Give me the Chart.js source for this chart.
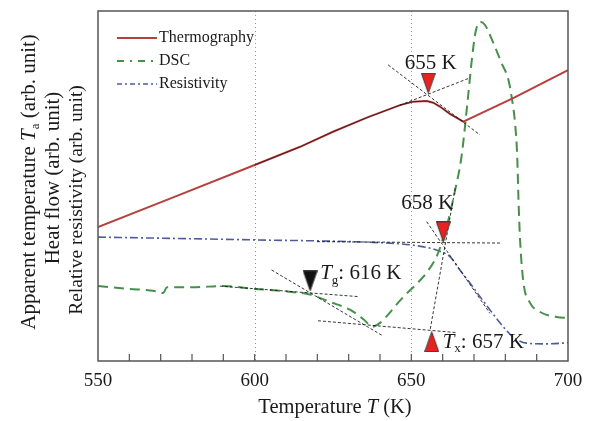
<!DOCTYPE html>
<html>
<head>
<meta charset="utf-8">
<script src="https://cdn.jsdelivr.net/npm/chart.js@4.4.1/dist/chart.umd.min.js"></script>
<style>
  html, body { margin: 0; padding: 0; background: #fff; }
  #wrap { width: 590px; height: 421px; }
</style>
</head>
<body>
<div id="wrap"><canvas id="chart" width="590" height="421"></canvas></div>
<script>
"use strict";

// ── Data (x: temperature in K, y: arbitrary units) ──────────────────────────

const xTicks = [550, 600, 650, 700];

const thermoT = [550, 575, 600, 614.5, 625, 636, 646.4, 650.6, 654.9, 657, 659.1, 662.3, 666.6, 682.5, 700];
const thermoY = [38.3, 47.1, 56.0, 61.2, 65.5, 69.6, 73.1, 74.1, 74.3, 73.8, 72.7, 70.6, 68.4, 75.1, 83.1];

const dscT = [550, 560, 568, 570.8, 572, 580, 590, 600, 611, 618, 624, 630.5, 635, 637.5, 640, 643, 646,
  649, 652, 655, 658, 660, 662, 664, 666, 668, 669.3, 670.5, 672, 673.5, 676.2, 678.8, 681, 682, 683.1,
  683.8, 684.2, 684.7, 685.8, 687.9, 691.1, 696.4, 700];
const dscY = [21.4, 20.6, 20.0, 19.4, 21.1, 21.1, 21.4, 20.6, 19.8, 18.9, 16.9, 14.6, 11.7, 9.8, 10.9, 13.7, 16.9,
  19.7, 22.3, 25.4, 29.7, 34.6, 40.9, 48.9, 58.3, 74.6, 86.0, 94.0, 96.9, 96.0, 90.8, 85.1, 80.3, 75.5, 68.0,
  58.3, 46.0, 34.6, 22.3, 16.6, 14.0, 12.6, 12.3];

const resT = [550, 600, 640, 650.5, 658, 662.3, 665.5, 668.7, 671.9, 675.1, 679.3, 682.4, 686.8, 693.2, 700];
const resY = [35.4, 34.6, 33.8, 33.1, 31.7, 29.8, 26.0, 22.3, 18.4, 14.6, 9.8, 6.9, 5.1, 4.9, 5.2];

// tangent construction lines, [[T1, y1], [T2, y2]]
const tangents = [
  [[642.6, 84.6], [671.9, 64.6]],
  [[646.4, 73.1], [668.7, 80.9]],
  [[619.9, 34.1], [678.3, 33.7]],
  [[654.9, 39.8], [675.1, 13.6]],
  [[664.0, 49.4], [656.0, 8.9]],
  [[620.2, 11.5], [664.6, 8.1]],
  [[605.4, 26.0], [640.5, 7.4]],
  [[588.9, 21.4], [633.1, 18.4]],
];

// markers: T, y
const redDownT = [655.4, 660.2];
const redDownY = [79.4, 36.9];
const redUpT = [656.5];
const redUpY = [5.5];
const blackDownT = [617.7];
const blackDownY = [22.9];

// ── Helpers ──────────────────────────────────────────────────────────────────

const SERIF = "'Liberation Serif', 'Times New Roman', serif";
const pts = (xs, ys) => xs.map((x, i) => ({ x, y: ys[i] }));

function triangleImage(fill, up) {
  const c = document.createElement("canvas");
  c.width = 15;
  c.height = 21;
  const g = c.getContext("2d");
  g.beginPath();
  if (up) {
    g.moveTo(7.5, 0.5); g.lineTo(14.5, 20.5); g.lineTo(0.5, 20.5);
  } else {
    g.moveTo(0.5, 0.5); g.lineTo(14.5, 0.5); g.lineTo(7.5, 20.5);
  }
  g.closePath();
  g.fillStyle = fill;
  g.fill();
  g.strokeStyle = "#3a3a3a";
  g.lineWidth = 1;
  g.stroke();
  return c;
}

// draw text made of parts {t, italic, sub}
function richText(ctx, parts, x, y, size, align) {
  const fontOf = (p) => `${p.italic ? "italic " : ""}${p.sub ? Math.round(size * 0.62) : size}px ${SERIF}`;
  let w = 0;
  parts.forEach((p) => { ctx.font = fontOf(p); w += ctx.measureText(p.t).width; });
  let cx = align === "center" ? x - w / 2 : x;
  ctx.textAlign = "left";
  ctx.textBaseline = "middle";
  parts.forEach((p) => {
    ctx.font = fontOf(p);
    ctx.fillText(p.t, cx, p.sub ? y + size * 0.33 : y);
    cx += ctx.measureText(p.t).width;
  });
}

const annotations = [
  { parts: [{ t: "655 K" }], x: 656.2, y: 85.1, size: 21, align: "center" },
  { parts: [{ t: "658 K" }], x: 655.1, y: 44.9, size: 21, align: "center" },
  { parts: [{ t: "T", italic: true }, { t: "g", sub: true }, { t: ": 616 K" }], x: 620.9, y: 25.1, size: 21, align: "left" },
  { parts: [{ t: "T", italic: true }, { t: "x", sub: true }, { t: ": 657 K" }], x: 660.0, y: 5.4, size: 21, align: "left" },
];

const yTitles = [
  { parts: [{ t: "Apparent temperature " }, { t: "T", italic: true }, { t: "a", sub: true }, { t: " (arb. unit)" }], x: 29, y: 182, size: 21 },
  { parts: [{ t: "Heat flow (arb. unit)" }], x: 53, y: 178, size: 21 },
  { parts: [{ t: "Relative resistivity (arb. unit)" }], x: 77, y: 200, size: 19.5 },
];

// ── Frame, ticks, texts, legend ──────────────────────────────────────────────

const decor = {
  id: "decor",
  beforeDatasetsDraw(chart) {
    const { ctx, chartArea: a, scales: { x } } = chart;
    ctx.save();
    ctx.strokeStyle = "#9a9a9a";
    ctx.lineWidth = 1;
    ctx.setLineDash([1, 3]);
    [600, 650].forEach((v) => {
      const px = Math.round(x.getPixelForValue(v)) + 0.5;
      ctx.beginPath();
      ctx.moveTo(px, a.top);
      ctx.lineTo(px, a.bottom);
      ctx.stroke();
    });
    ctx.restore();
  },
  afterDraw(chart) {
    const { ctx, chartArea: a, scales: { x } } = chart;
    ctx.save();
    // frame
    ctx.strokeStyle = "#555";
    ctx.lineWidth = 1.5;
    ctx.strokeRect(a.left, a.top, a.right - a.left, a.bottom - a.top);
    // inward ticks every 10 K
    ctx.lineWidth = 1.2;
    for (let v = 560; v < 700; v += 10) {
      const px = x.getPixelForValue(v);
      ctx.beginPath();
      ctx.moveTo(px, a.bottom);
      ctx.lineTo(px, a.bottom - 7);
      ctx.stroke();
    }
    ctx.fillStyle = "#1a1a1a";
    // x title
    richText(ctx, [{ t: "Temperature " }, { t: "T", italic: true }, { t: " (K)" }], (a.left + a.right) / 2 + 2, 408, 20.5, "center");
    // y titles
    yTitles.forEach((l) => {
      ctx.save();
      ctx.translate(l.x, l.y);
      ctx.rotate(-Math.PI / 2);
      richText(ctx, l.parts, 0, 0, l.size, "center");
      ctx.restore();
    });
    // annotations
    const y = chart.scales.y;
    annotations.forEach((n) => {
      richText(ctx, n.parts, x.getPixelForValue(n.x), y.getPixelForValue(n.y), n.size, n.align);
    });
    // legend
    const legendSets = chart.data.datasets.filter((d) => d.inLegend);
    legendSets.forEach((d, i) => {
      const ly = 38 + i * 23;
      ctx.strokeStyle = d.borderColor;
      ctx.lineWidth = d.borderWidth;
      ctx.setLineDash(d.legendDash || []);
      ctx.beginPath();
      ctx.moveTo(117, ly);
      ctx.lineTo(157, ly);
      ctx.stroke();
      ctx.setLineDash([]);
      ctx.font = `16px ${SERIF}`;
      ctx.fillStyle = "#1a1a1a";
      ctx.textAlign = "left";
      ctx.textBaseline = "middle";
      ctx.fillText(d.label, 159, ly);
    });
    ctx.restore();
  },
};

// ── Chart ────────────────────────────────────────────────────────────────────

const thermoFit = pts(thermoT, thermoY).filter((p) => p.x >= 600 && p.x <= 667);

const datasets = [
  {
    label: "markers-red-down",
    data: pts(redDownT, redDownY),
    pointStyle: triangleImage("#e8231f", false),
    showLine: false,
    order: 0,
  },
  {
    label: "markers-red-up",
    data: pts(redUpT, redUpY),
    pointStyle: triangleImage("#e8231f", true),
    showLine: false,
    order: 0,
  },
  {
    label: "markers-black",
    data: pts(blackDownT, blackDownY),
    pointStyle: triangleImage("#111", false),
    showLine: false,
    order: 0,
  },
  ...tangents.map((t) => ({
    label: "tangent",
    data: t.map(([tx, ty]) => ({ x: tx, y: ty })),
    showLine: true,
    borderColor: "rgba(20,20,20,0.85)",
    borderWidth: 1,
    borderDash: [3, 2],
    pointRadius: 0,
    order: 1,
  })),
  {
    label: "fit",
    data: thermoFit,
    showLine: true,
    borderColor: "rgba(0,0,0,0.55)",
    borderWidth: 1,
    pointRadius: 0,
    order: 1,
  },
  {
    label: "Thermography",
    inLegend: true,
    data: pts(thermoT, thermoY),
    showLine: true,
    borderColor: "#b5403e",
    borderWidth: 2,
    pointRadius: 0,
    tension: 0,
    order: 2,
  },
  {
    label: "DSC",
    inLegend: true,
    data: pts(dscT, dscY),
    showLine: true,
    borderColor: "#45904a",
    borderWidth: 2,
    borderDash: [10, 6],
    legendDash: [7, 6, 2, 6],
    pointRadius: 0,
    cubicInterpolationMode: "monotone",
    order: 3,
  },
  {
    label: "Resistivity",
    inLegend: true,
    data: pts(resT, resY),
    showLine: true,
    borderColor: "#4e5c9e",
    borderWidth: 1.6,
    borderDash: [8, 3, 2, 3],
    legendDash: [5, 3, 2, 3],
    pointRadius: 0,
    cubicInterpolationMode: "monotone",
    order: 4,
  },
];

new Chart(document.getElementById("chart").getContext("2d"), {
  type: "scatter",
  data: { datasets },
  options: {
    responsive: false,
    animation: false,
    devicePixelRatio: 1,
    layout: { padding: { left: 98, right: 22, top: 11, bottom: 0 } },
    plugins: { legend: { display: false }, tooltip: { enabled: false } },
    scales: {
      x: {
        type: "linear",
        min: 550,
        max: 700,
        afterFit: (s) => { s.height = 60; },
        afterBuildTicks: (s) => { s.ticks = xTicks.map((v) => ({ value: v })); },
        grid: { display: false },
        border: { display: false },
        ticks: {
          padding: 1,
          color: "#1a1a1a",
          font: { family: SERIF, size: 19 },
        },
      },
      y: { min: 0, max: 100, display: false },
    },
  },
  plugins: [decor],
});
</script>
</body>
</html>
